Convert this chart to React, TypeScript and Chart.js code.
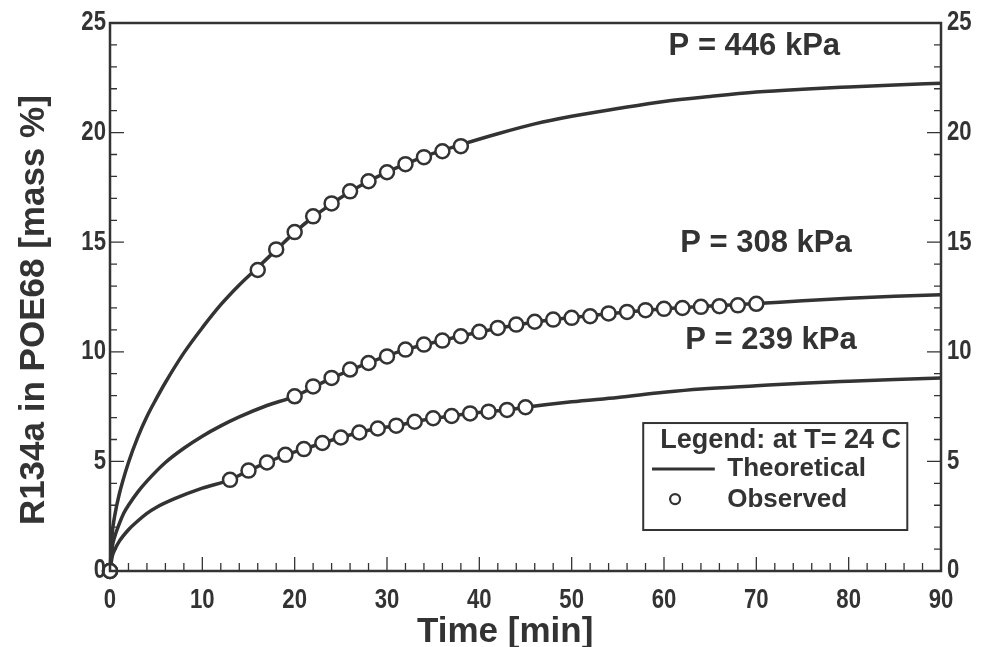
import React, { useEffect, useRef } from "react";
import { Chart, registerables } from "chart.js";

Chart.register(...registerables);

// Theoretical curves (time in min, mass %)
const theoryTime446 = [0, 0.25, 0.5, 1, 2, 3, 4, 5, 6, 8, 10, 12, 14, 16, 18, 20, 22, 24, 26, 28, 30, 32, 34, 36, 38, 42, 46, 50, 55, 60, 65, 70, 75, 80, 85, 90];
const theory446 = [0, 1.75, 2.5, 3.5, 4.95, 6.1, 7.05, 7.85, 8.6, 9.95, 11.1, 12.15, 13.05, 13.85, 14.65, 15.45, 16.15, 16.75, 17.3, 17.78, 18.2, 18.56, 18.9, 19.18, 19.45, 19.95, 20.4, 20.75, 21.1, 21.42, 21.65, 21.85, 21.98, 22.08, 22.17, 22.25];

const theoryTime308 = [0, 0.25, 0.5, 1, 1.5, 2, 3, 4, 6, 8, 10, 12, 14, 17, 20, 24, 28, 32, 36, 40, 44, 48, 52, 56, 60, 64, 70, 75, 80, 85, 90];
const theory308 = [0, 1.1, 1.55, 2.15, 2.65, 3.0, 3.6, 4.1, 4.95, 5.6, 6.15, 6.62, 7.03, 7.55, 7.97, 8.8, 9.5, 10.1, 10.52, 10.9, 11.22, 11.47, 11.65, 11.82, 11.96, 12.07, 12.2, 12.33, 12.44, 12.53, 12.6];

const theoryTime239 = [0, 0.25, 0.5, 1, 2, 3, 4, 5, 7, 10, 13, 15, 17, 19, 21, 23, 25, 27, 29, 31, 33, 35, 37, 39, 41, 43, 45, 50, 55, 60, 64, 70, 75, 80, 85, 90];
const theory239 = [0, 0.68, 0.96, 1.35, 1.88, 2.28, 2.63, 2.9, 3.3, 3.78, 4.16, 4.58, 4.95, 5.3, 5.56, 5.84, 6.09, 6.32, 6.5, 6.63, 6.81, 6.97, 7.07, 7.19, 7.27, 7.35, 7.47, 7.72, 7.92, 8.15, 8.3, 8.45, 8.57, 8.66, 8.74, 8.8];

// Observed points
const obsTime446 = [0, 16, 18, 20, 22, 24, 26, 28, 30, 32, 34, 36, 38];
const obs446 = [0, 13.73, 14.67, 15.46, 16.18, 16.77, 17.32, 17.78, 18.19, 18.56, 18.88, 19.15, 19.38];

const obsTime308 = [0, 20, 22, 24, 26, 28, 30, 32, 34, 36, 38, 40, 42, 44, 46, 48, 50, 52, 54, 56, 58, 60, 62, 64, 66, 68, 70];
const obs308 = [0, 7.97, 8.42, 8.81, 9.19, 9.49, 9.79, 10.1, 10.33, 10.51, 10.71, 10.91, 11.09, 11.24, 11.37, 11.47, 11.55, 11.62, 11.75, 11.82, 11.9, 11.96, 12.0, 12.05, 12.08, 12.12, 12.19];

const obsTime239 = [0, 13, 15, 17, 19, 21, 23, 25, 27, 29, 31, 33, 35, 37, 39, 41, 43, 45];
const obs239 = [0, 4.16, 4.58, 4.95, 5.3, 5.56, 5.84, 6.09, 6.32, 6.5, 6.63, 6.81, 6.97, 7.07, 7.19, 7.27, 7.35, 7.47];

const xTicks = [0, 10, 20, 30, 40, 50, 60, 70, 80, 90];
const yTicks = [0, 5, 10, 15, 20, 25];

const pressureLabels = ["P = 446 kPa", "P = 308 kPa", "P = 239 kPa"];
const labelTime = [60.5, 61.75, 62.3];
const labelValue = [23.95, 14.96, 10.54];

const xTitle = "Time [min]";
const yTitle = "R134a in POE68 [mass %]";
const legendTitle = "Legend: at T= 24 C";
const legendTheory = "Theoretical";
const legendObserved = "Observed";

const INK = "#333333";
const FONT = "'Liberation Sans', Arial, sans-serif";

const zip = (xs: number[], ys: number[]) => xs.map((x, i) => ({ x, y: ys[i] }));

const decorPlugin = {
  id: "decor",
  afterDraw(chart: any) {
    const { ctx, chartArea } = chart;
    const { left, right, top, bottom } = chartArea;
    const xs = chart.scales.x;
    const ys = chart.scales.y;
    ctx.save();
    ctx.strokeStyle = INK;
    ctx.lineWidth = 2.5;
    ctx.strokeRect(left, top, right - left, bottom - top);

    ctx.lineWidth = 1.3;
    for (let v = 0; v <= 90; v += 2) {
      const px = xs.getPixelForValue(v);
      const len = v % 10 === 0 ? 14 : 8;
      ctx.beginPath();
      ctx.moveTo(px, bottom);
      ctx.lineTo(px, bottom - len);
      ctx.stroke();
    }
    for (let v = 0; v <= 25; v += 1) {
      const py = ys.getPixelForValue(v);
      const len = v % 5 === 0 ? 14 : 7;
      ctx.beginPath();
      ctx.moveTo(left, py);
      ctx.lineTo(left + len, py);
      ctx.moveTo(right, py);
      ctx.lineTo(right - len, py);
      ctx.stroke();
    }

    ctx.fillStyle = INK;
    ctx.textBaseline = "middle";

    // Tick labels (condensed)
    ctx.font = `bold 27px ${FONT}`;
    ctx.textAlign = "center";
    xTicks.forEach((v) => {
      ctx.save();
      ctx.translate(xs.getPixelForValue(v), bottom + 30);
      ctx.scale(0.82, 1);
      ctx.fillText(String(v), 0, 0);
      ctx.restore();
    });
    yTicks.forEach((v) => {
      const py = ys.getPixelForValue(v);
      ctx.save();
      ctx.translate(left - 4, py);
      ctx.scale(0.82, 1);
      ctx.textAlign = "right";
      ctx.fillText(String(v), 0, 0);
      ctx.restore();
      ctx.save();
      ctx.translate(right + 6, py);
      ctx.scale(0.82, 1);
      ctx.textAlign = "left";
      ctx.fillText(String(v), 0, 0);
      ctx.restore();
    });

    ctx.textAlign = "left";
    ctx.font = `bold 31px ${FONT}`;
    pressureLabels.forEach((t, i) => {
      ctx.fillText(t, xs.getPixelForValue(labelTime[i]), ys.getPixelForValue(labelValue[i]));
    });

    // Axis titles
    ctx.font = `bold 35px ${FONT}`;
    ctx.textAlign = "center";
    ctx.fillText(xTitle, xs.getPixelForValue(42.8), 632);
    ctx.save();
    ctx.translate(34, ys.getPixelForValue(11.9));
    ctx.rotate(-Math.PI / 2);
    ctx.fillText(yTitle, 0, 0);
    ctx.restore();

    // Legend box
    const bx0 = xs.getPixelForValue(57.75);
    const bx1 = xs.getPixelForValue(86.35);
    const by0 = ys.getPixelForValue(6.75);
    const by1 = ys.getPixelForValue(1.87);
    ctx.lineWidth = 2;
    ctx.strokeRect(bx0, by0, bx1 - bx0, by1 - by0);
    ctx.font = `bold 27px ${FONT}`;
    ctx.textAlign = "left";
    ctx.fillText(legendTitle, xs.getPixelForValue(59.6), ys.getPixelForValue(5.93));
    ctx.font = `bold 26px ${FONT}`;
    const lineY = ys.getPixelForValue(4.65);
    ctx.lineWidth = 3;
    ctx.beginPath();
    ctx.moveTo(xs.getPixelForValue(58.7), lineY);
    ctx.lineTo(xs.getPixelForValue(65.5), lineY);
    ctx.stroke();
    ctx.fillText(legendTheory, xs.getPixelForValue(66.85), ys.getPixelForValue(4.68));
    ctx.beginPath();
    ctx.arc(xs.getPixelForValue(61.2), ys.getPixelForValue(3.28), 5, 0, Math.PI * 2);
    ctx.fillStyle = "#ffffff";
    ctx.fill();
    ctx.lineWidth = 2.2;
    ctx.stroke();
    ctx.fillStyle = INK;
    ctx.fillText(legendObserved, xs.getPixelForValue(66.85), ys.getPixelForValue(3.25));
    ctx.restore();
  },
};

export default function App() {
  const ref = useRef<HTMLCanvasElement>(null);
  useEffect(() => {
    if (!ref.current) return;
    const lineDs = (xs: number[], ys: number[]) => ({
      data: zip(xs, ys),
      borderColor: INK,
      borderWidth: 3.5,
      pointRadius: 0,
      showLine: true,
      fill: false,
      cubicInterpolationMode: "monotone" as const,
      order: 2,
      clip: false as const,
    });
    const obsDs = (xs: number[], ys: number[]) => ({
      data: zip(xs, ys),
      borderColor: INK,
      backgroundColor: "#ffffff",
      pointBackgroundColor: "#ffffff",
      pointBorderColor: INK,
      pointBorderWidth: 2.5,
      pointRadius: 7,
      showLine: false,
      order: 1,
      clip: false as const,
    });
    const hiddenTicks = { display: false };
    const chart = new Chart(ref.current, {
      type: "line",
      data: {
        datasets: [
          obsDs(obsTime446, obs446),
          obsDs(obsTime308, obs308),
          obsDs(obsTime239, obs239),
          lineDs(theoryTime446, theory446),
          lineDs(theoryTime308, theory308),
          lineDs(theoryTime239, theory239),
        ] as any,
      },
      options: {
        animation: false,
        responsive: false,
        maintainAspectRatio: false,
        layout: { padding: { top: 23, left: 0, right: 0, bottom: 0 } },
        plugins: { legend: { display: false }, tooltip: { enabled: false } },
        scales: {
          x: {
            type: "linear",
            min: 0,
            max: 90,
            afterFit: (s: any) => { s.height = 76; },
            grid: { display: false, drawTicks: false },
            border: { display: false },
            ticks: hiddenTicks,
          },
          y: {
            type: "linear",
            position: "left",
            min: 0,
            max: 25,
            afterFit: (s: any) => { s.width = 110; },
            grid: { display: false, drawTicks: false },
            border: { display: false },
            ticks: hiddenTicks,
          },
          y2: {
            type: "linear",
            position: "right",
            min: 0,
            max: 25,
            afterFit: (s: any) => { s.width = 48; },
            grid: { display: false, drawTicks: false },
            border: { display: false },
            ticks: hiddenTicks,
          },
        },
      },
      plugins: [decorPlugin],
    });
    return () => chart.destroy();
  }, []);
  return (
    <div style={{ position: "fixed", left: 0, top: 0, width: 989, height: 647, background: "#fff" }}>
      <canvas ref={ref} width={989} height={647} style={{ width: 989, height: 647 }} />
    </div>
  );
}
